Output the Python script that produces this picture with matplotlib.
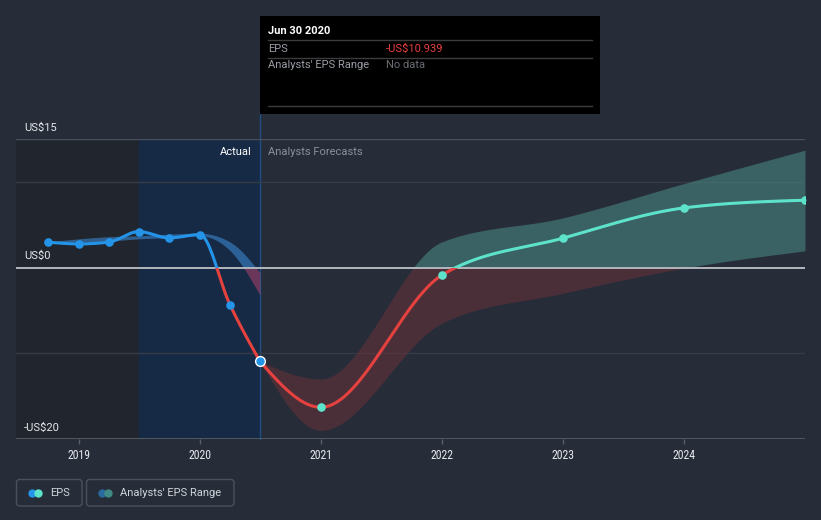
import numpy as np
import pandas as pd
import matplotlib
matplotlib.use('Agg')
import matplotlib.pyplot as plt
from matplotlib.patches import Rectangle, FancyBboxPatch
from matplotlib import font_manager

plt.rcParams['font.family'] = ['Roboto', 'DejaVu Sans']

# ---------------- data ----------------
actual_dates = ["2018-09-30", "2018-12-31", "2019-03-31", "2019-06-30",
                "2019-09-30", "2019-12-31", "2020-03-31", "2020-06-30"]
actual_eps = [2.96, 2.76, 2.96, 4.20, 3.46, 3.85, -4.31, -10.939]
actual_range_low = [2.9, 3.0, 3.1, 3.35, 3.5, 3.7, 2.0, -3.2]
actual_range_high = [3.0, 3.35, 3.6, 3.7, 3.9, 4.0, 3.0, -0.6]

forecast_dates = ["2020-06-30", "2020-12-31", "2021-12-31", "2022-12-31",
                  "2023-12-31", "2024-12-31"]
forecast_eps = [-10.939, -16.3, -0.89, 3.43, 6.96, 7.86]
forecast_low = [-10.939, -19.0, -6.5, -3.0, -0.07, 1.95]
forecast_high = [-10.939, -13.0, 3.0, 5.8, 9.8, 13.7]

year_ticks = [2019, 2020, 2021, 2022, 2023, 2024]
y_label_values = [15, 0, -20]
y_label_texts = ["US$15", "US$0", "-US$20"]
grid_values = [10, -10]

highlight_start = "2019-06-30"
highlight_end = "2020-06-30"

# ---------------- helpers ----------------
def dec_year(s):
    t = pd.Timestamp(s)
    days = 366 if t.is_leap_year else 365
    return t.year + (t.dayofyear - 1) / days


def monotone(xs, ys, n=80):
    xs = np.asarray(xs, float)
    ys = np.asarray(ys, float)
    h = np.diff(xs)
    d = np.diff(ys) / h
    m = np.zeros_like(ys)
    for i in range(1, len(xs) - 1):
        if d[i - 1] * d[i] <= 0:
            m[i] = 0.0
        else:
            p = (d[i - 1] * h[i] + d[i] * h[i - 1]) / (h[i - 1] + h[i])
            m[i] = (np.sign(d[i - 1]) + np.sign(d[i])) * min(abs(d[i - 1]), abs(d[i]), 0.5 * abs(p))
    if len(xs) > 2:
        m[0] = (3 * d[0] - m[1]) / 2
        m[-1] = (3 * d[-1] - m[-2]) / 2
    else:
        m[:] = d[0]
    ox, oy = [], []
    for i in range(len(h)):
        t = np.linspace(0, 1, n, endpoint=(i == len(h) - 1))
        h00 = 2 * t**3 - 3 * t**2 + 1
        h10 = t**3 - 2 * t**2 + t
        h01 = -2 * t**3 + 3 * t**2
        h11 = t**3 - t**2
        oy.append(h00 * ys[i] + h10 * h[i] * m[i] + h01 * ys[i + 1] + h11 * h[i] * m[i + 1])
        ox.append(xs[i] + t * h[i])
    return np.concatenate(ox), np.concatenate(oy)


ax_x = np.array([dec_year(d) for d in actual_dates])
fc_x = np.array([dec_year(d) for d in forecast_dates])

# ---------------- figure ----------------
W, H = 821, 520
BG = '#262c38'
fig = plt.figure(figsize=(W / 100, H / 100), dpi=100, facecolor=BG)
L, R, T, B = 16, 805, 139, 439
ax = fig.add_axes([L / W, (H - B) / H, (R - L) / W, (B - T) / H])
ax.set_facecolor(BG)
xmin = 2020 - (200 - L) / 121.0
xmax = dec_year("2024-12-31")
ax.set_xlim(xmin, xmax)
ax.set_ylim(-20, 15)
for s in ax.spines.values():
    s.set_visible(False)

hs, he = dec_year(highlight_start), dec_year(highlight_end)
ax.axvspan(xmin, hs, color='#21252e', zorder=0, lw=0)
ax.axvspan(hs, he, color='#172a45', zorder=0, lw=0)
ax.axvline(he, ymin=0, ymax=(B - 114) / (B - T), color='#1f4f85', lw=1, clip_on=False, zorder=1)

for g in grid_values:
    ax.axhline(g, color='#353b47', lw=1, zorder=1)
ax.axhline(15, color='#4a505b', lw=1, zorder=1)
ax.axhline(-20, color='#5a606b', lw=1.2, zorder=1)


def band(xs, lo, hi, pos_color, neg_color, alpha):
    bx, blo = monotone(xs, lo)
    _, bhi = monotone(xs, hi)
    ax.fill_between(bx, np.maximum(blo, 0), np.maximum(bhi, 0), where=bhi > 0,
                    color=pos_color, alpha=alpha, lw=0, zorder=2, interpolate=True)
    ax.fill_between(bx, np.minimum(blo, 0), np.minimum(bhi, 0), where=blo < 0,
                    color=neg_color, alpha=alpha, lw=0, zorder=2, interpolate=True)


band(ax_x, actual_range_low, actual_range_high, '#3f8fdc', '#b0406a', 0.55)
band(fc_x, forecast_low, forecast_high, '#4e968e', '#6e323a', 0.5)

ax.axhline(0, color='#b4b7bd', lw=1.4, zorder=3)


def signed_line(xs, ys, pos_color, neg_color):
    lx, ly = monotone(xs, ys)
    for col, y0 in ((pos_color, 0), (neg_color, -100)):
        ln, = ax.plot(lx, ly, color=col, lw=2.2, zorder=4, solid_capstyle='round')
        clip = Rectangle((xmin - 1, y0), xmax - xmin + 2, 100, transform=ax.transData)
        ln.set_clip_path(clip)


signed_line(ax_x, actual_eps, '#2394e8', '#e5413f')
signed_line(fc_x, forecast_eps, '#5ee3cb', '#e5413f')

ax.plot(ax_x[:-1], actual_eps[:-1], 'o', color='#2394e8', ms=6.2, mew=0, zorder=5)
ax.plot(fc_x[1:], forecast_eps[1:], 'o', color='#5ee3cb', ms=6.2, mew=0, zorder=5)
ax.plot(ax_x[-1:], actual_eps[-1:], 'o', mfc='#2394e8', mec='white', ms=7, mew=1.0, zorder=6)

# axis ticks
ax.set_yticks([])
ax.set_xticks(year_ticks)
tick_font = 'Roboto'
names = {f.name for f in font_manager.fontManager.ttflist}
for cand in ['Roboto Condensed', 'Liberation Sans Narrow', 'DejaVu Sans Condensed']:
    if cand in names:
        tick_font = cand
        break
ax.set_xticklabels([str(y) for y in year_ticks], family=tick_font, fontsize=8.5, color='#e6e8ec')
ax.tick_params(axis='x', length=3.5, width=1, color='#5a606b', pad=4)

for v, t in zip(y_label_values, y_label_texts):
    ax.annotate(t, xy=(0.0105, v), xycoords=ax.get_yaxis_transform(), xytext=(0, 6),
                textcoords='offset points', va='baseline', ha='left', fontsize=8,
                color='#e6e8ec', zorder=7)

ax.annotate('Actual', xy=(he, 15), xytext=(-6, -6), textcoords='offset points', ha='right',
            va='top', fontsize=8, color='#ffffff', zorder=7)
ax.annotate('Analysts Forecasts', xy=(he, 15), xytext=(6, -6), textcoords='offset points',
            ha='left', va='top', fontsize=8, color='#8b909a', zorder=7)

# ---------------- overlay (tooltip + legend) ----------------
ov = fig.add_axes([0, 0, 1, 1], zorder=10)
ov.set_xlim(0, W)
ov.set_ylim(H, 0)
ov.axis('off')

ov.add_patch(Rectangle((260, 16), 340, 98, facecolor='#000000', edgecolor='none'))
for yy in (40, 57.5, 106):
    ov.plot([268, 592], [yy, yy], color='#3c3c3c', lw=1)
ov.text(268, 31, 'Jun 30 2020', fontsize=8, fontweight='bold', color='white', va='center')
ov.text(268, 48.5, 'EPS', fontsize=8, color='#9a9ea5', va='center')
ov.text(386, 48.5, '-US$10.939', fontsize=8, color='#e8403c', va='center')
ov.text(268, 65.5, "Analysts' EPS Range", fontsize=8, color='#9a9ea5', va='center')
ov.text(386, 65.5, 'No data', fontsize=8, color='#6a6e75', va='center')

ov.add_patch(FancyBboxPatch((16.5, 479.5), 65.5, 26.5, boxstyle='round,pad=0,rounding_size=3',
                            facecolor='none', edgecolor='#4a505c', lw=1))
ov.add_patch(FancyBboxPatch((86.5, 479.5), 147.5, 26.5, boxstyle='round,pad=0,rounding_size=3',
                            facecolor='none', edgecolor='#4a505c', lw=1))
ov.plot([31.7], [492.5], 'o', color='#2394e8', ms=6, mew=0)
ov.plot([38.3], [492.5], 'o', color='#5ee3cb', ms=6, mew=0)
ov.text(50, 492.5, 'EPS', fontsize=8, color='#d0d4da', va='center')
ov.plot([101.7], [492.5], 'o', color='#2b6a9e', ms=6, mew=0)
ov.plot([108.3], [492.5], 'o', color='#3f8a84', ms=6, mew=0)
ov.text(120, 492.5, "Analysts' EPS Range", fontsize=8, color='#d0d4da', va='center')

fig.savefig('out.png', dpi=100, facecolor=BG)
